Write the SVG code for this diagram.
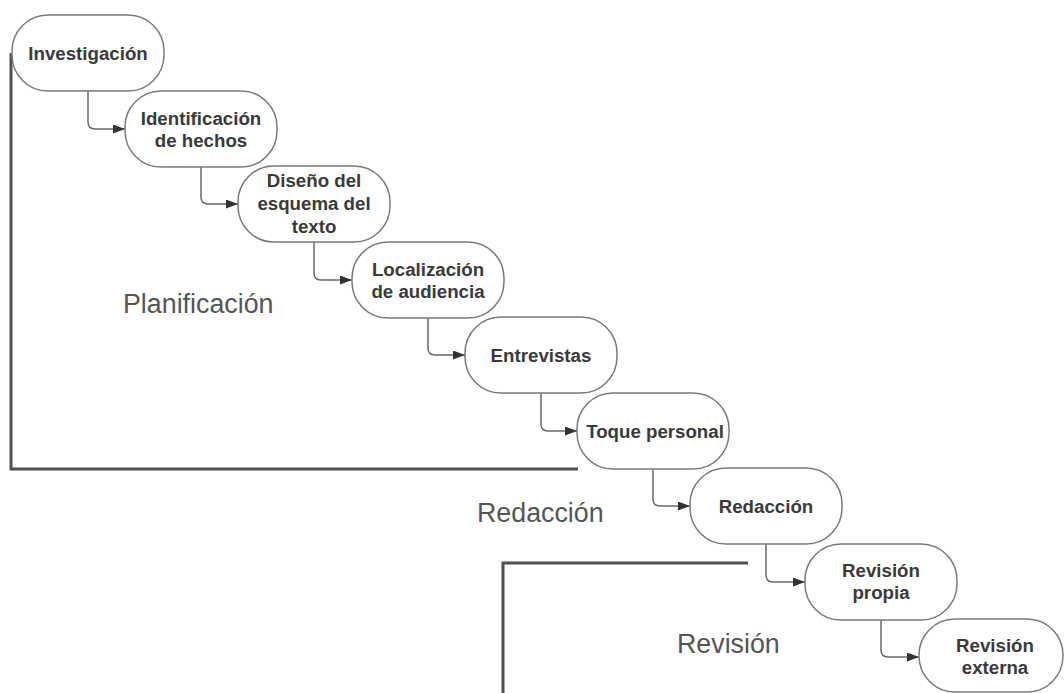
<svg xmlns="http://www.w3.org/2000/svg" width="1064" height="693" viewBox="0 0 1064 693">
  <style>
    .node rect { fill: #ffffff; stroke: #7a7a7a; stroke-width: 1.5; }
    .node text { font-family: "Liberation Sans", Arial, sans-serif; font-weight: bold; font-size: 18.7px; fill: #3a3a3a; text-anchor: middle; }
    .phase { font-family: "Liberation Sans", Arial, sans-serif; font-size: 26.8px; fill: #555555; }
    .frame { fill: none; stroke: #505050; stroke-width: 3; }
    .link { fill: none; stroke: #6a6a6a; stroke-width: 1.5; marker-end: url(#arrow); }
  </style>
  <defs>
    <marker id="arrow" markerUnits="userSpaceOnUse" markerWidth="13" markerHeight="9" refX="12" refY="4.5" orient="auto">
      <path d="M0,0 L12,4.5 L0,9 Z" fill="#333333"/>
    </marker>
  </defs>
  <rect width="1064" height="693" fill="#ffffff"/>

  <!-- phase frames -->
  <g id="frames">
    <path class="frame" d="M11,53 V469 H578"/>
    <path class="frame" d="M503,693 V563 H748"/>
  </g>

  <!-- phase labels -->
  <g id="labels">
    <text class="phase" x="123" y="313">Planificación</text>
    <text class="phase" x="477" y="522">Redacción</text>
    <text class="phase" x="677" y="653">Revisión</text>
  </g>

  <!-- connectors: down from each step's bottom, then right into the next step -->
  <g id="connectors">
    <path class="link" d="M88,91 V122 Q88,129 95,129 H125"/>
    <path class="link" d="M201,167 V197 Q201,204 208,204 H238"/>
    <path class="link" d="M314,242 V273 Q314,280 321,280 H352"/>
    <path class="link" d="M428,318 V348 Q428,355 435,355 H465"/>
    <path class="link" d="M541,393 V424 Q541,431 548,431 H577"/>
    <path class="link" d="M653,469 V499 Q653,506 660,506 H690"/>
    <path class="link" d="M766,544 V575 Q766,582 773,582 H805"/>
    <path class="link" d="M881,620 V650 Q881,657 888,657 H919"/>
  </g>

  <g id="n-investigacion" class="node">
    <rect x="12" y="15" width="152" height="76" rx="36"/>
    <text x="88" y="59.5">Investigación</text>
  </g>
  <g id="n-identificacion" class="node">
    <rect x="125" y="91" width="152" height="76" rx="36"/>
    <text x="201" y="124.5">Identificación</text>
    <text x="201" y="146.5">de hechos</text>
  </g>
  <g id="n-diseno" class="node">
    <rect x="238" y="166" width="152" height="76" rx="36"/>
    <text x="314" y="187">Diseño del</text>
    <text x="314" y="210">esquema del</text>
    <text x="314" y="233">texto</text>
  </g>
  <g id="n-localizacion" class="node">
    <rect x="352" y="242" width="152" height="76" rx="36"/>
    <text x="428" y="275.5">Localización</text>
    <text x="428" y="297.5">de audiencia</text>
  </g>
  <g id="n-entrevistas" class="node">
    <rect x="465" y="317" width="152" height="76" rx="36"/>
    <text x="541" y="361.5">Entrevistas</text>
  </g>
  <g id="n-toque" class="node">
    <rect x="577" y="393" width="152" height="76" rx="36"/>
    <text x="655" y="437.5">Toque personal</text>
  </g>
  <g id="n-redaccion" class="node">
    <rect x="690" y="468" width="152" height="76" rx="36"/>
    <text x="766" y="512.5">Redacción</text>
  </g>
  <g id="n-revision-propia" class="node">
    <rect x="805" y="544" width="152" height="76" rx="36"/>
    <text x="881" y="576.5">Revisión</text>
    <text x="881" y="598.5">propia</text>
  </g>
  <g id="n-revision-externa" class="node">
    <rect x="919" y="619" width="144" height="73" rx="36"/>
    <text x="995" y="651.5">Revisión</text>
    <text x="995" y="673.5">externa</text>
  </g>
</svg>
